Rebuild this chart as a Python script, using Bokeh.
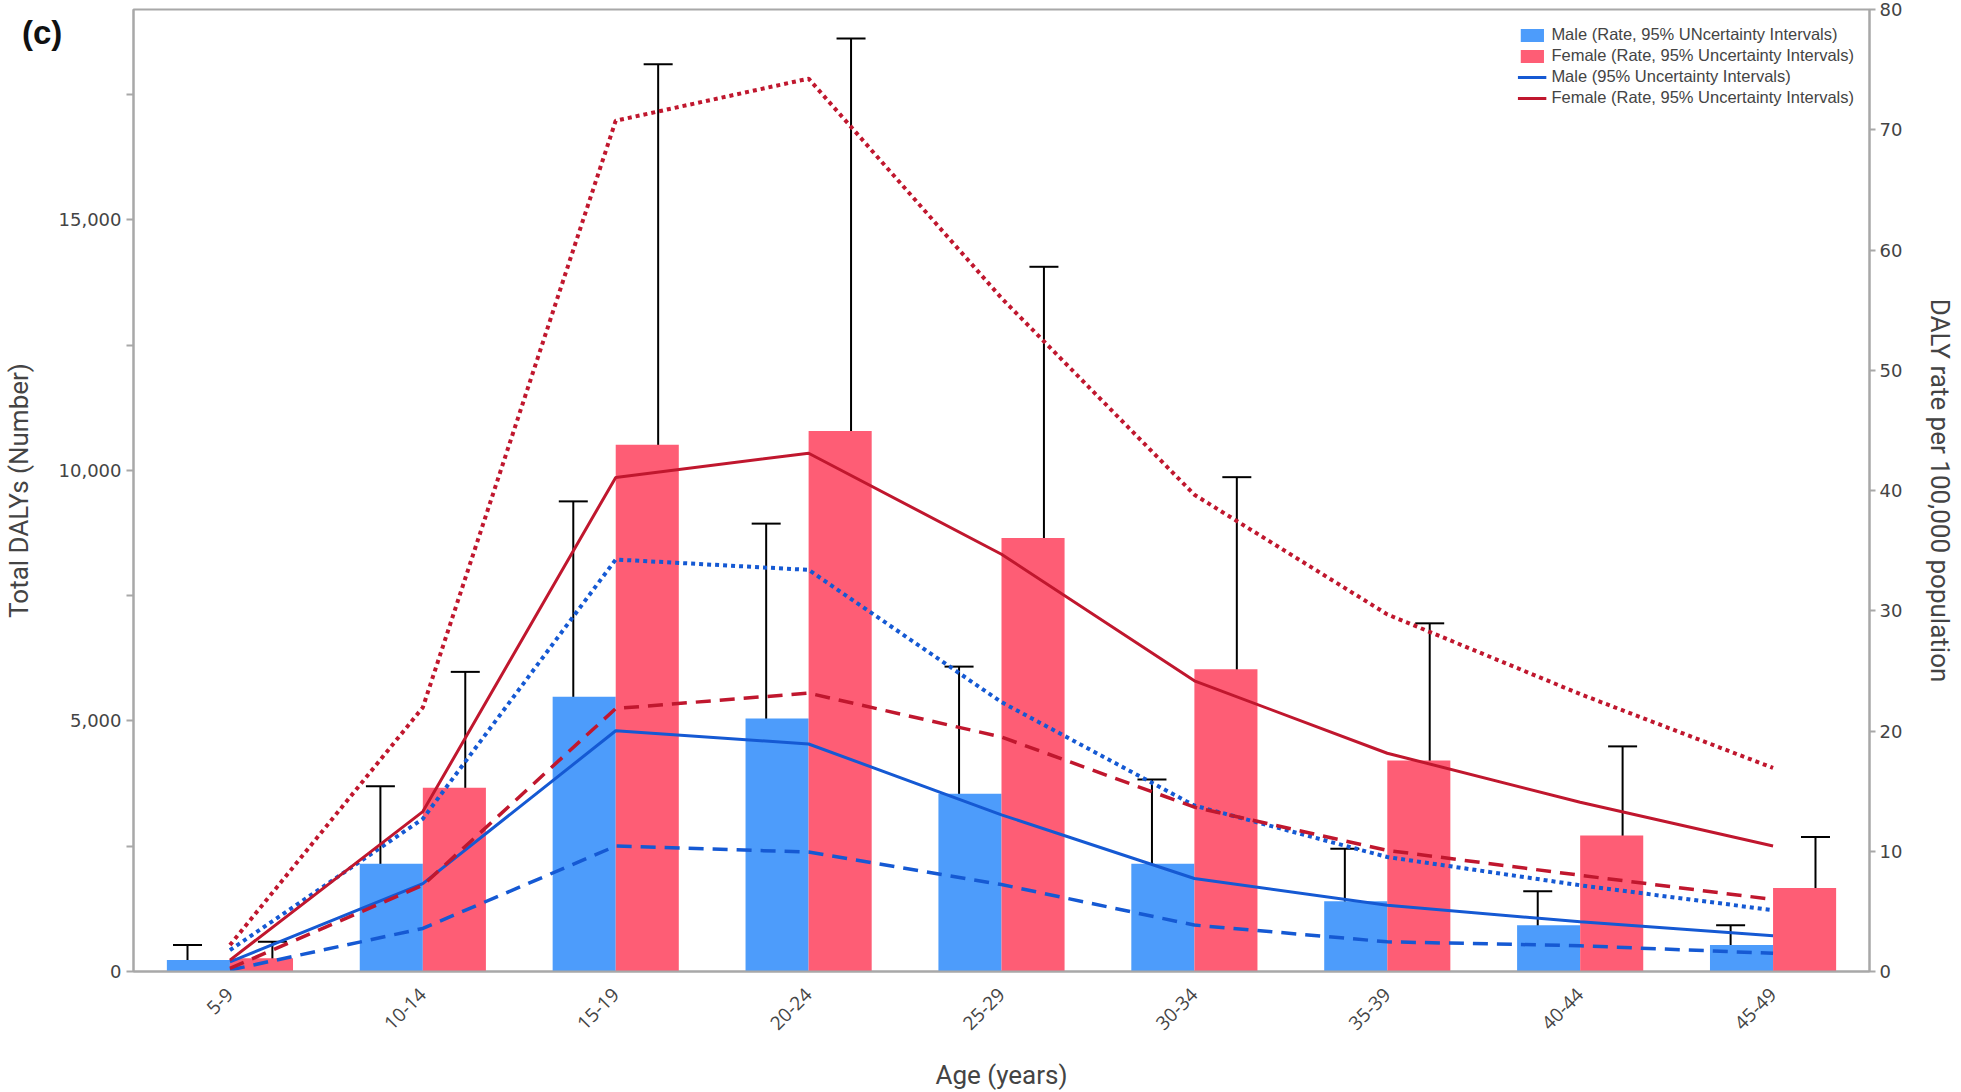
from bokeh.plotting import figure
from bokeh.models import (ColumnDataSource, Range1d, LinearAxis, FixedTicker, Legend, LegendItem,
                          Whisker, TeeHead, NumeralTickFormatter, FactorRange)
from bokeh.transform import dodge
from bokeh.embed import file_html
from bokeh.resources import INLINE
import math

categories = ["5-9", "10-14", "15-19", "20-24", "25-29", "30-34", "35-39", "40-44", "45-49"]

# Total DALYs (number), left axis
male_number = [229, 2153, 5482, 5051, 3546, 2153, 1403, 925, 527]
male_number_lower = [56, 1059, 2882, 2663, 1934, 1091, 693, 461, 249]
male_number_upper = [527, 3697, 9383, 8939, 6085, 3831, 2452, 1602, 925]
female_number = [262, 3665, 10511, 10790, 8653, 6034, 4209, 2716, 1668]
female_number_lower = [63, 1940, 5616, 5801, 4971, 3399, 2338, 1556, 959]
female_number_upper = [593, 5980, 18105, 18623, 14065, 9866, 6949, 4493, 2683]

# DALY rate per 100,000, right axis
male_rate = [0.8, 7.31, 20.02, 18.92, 13.03, 7.73, 5.51, 4.13, 2.97]
male_rate_lower = [0.12, 3.58, 10.43, 9.93, 7.23, 3.86, 2.47, 2.14, 1.51]
male_rate_upper = [1.78, 12.7, 34.26, 33.4, 22.4, 13.8, 9.52, 7.17, 5.1]
female_rate = [0.95, 13.3, 41.09, 43.1, 34.7, 24.17, 18.15, 14.08, 10.43]
female_rate_lower = [0.26, 7.17, 21.87, 23.15, 19.5, 13.67, 10.07, 8.0, 5.99]
female_rate_upper = [2.2, 21.96, 70.75, 74.25, 56.0, 39.65, 29.7, 23.07, 16.93]

left_ticks = [0, 5000, 10000, 15000]
left_minor = [2500, 7500, 12500, 17500]
right_ticks = [0, 10, 20, 30, 40, 50, 60, 70, 80]

panel_tag = "(c)"
legend_labels = ["Male (Rate, 95% UNcertainty Intervals)",
                 "Female (Rate, 95% Uncertainty Intervals)",
                 "Male (95% Uncertainty Intervals)",
                 "Female (Rate, 95% Uncertainty Intervals)"]

MALE_BAR = "#4D9CFB"
FEMALE_BAR = "#FE5D75"
MALE_LINE = "#1559D3"
FEMALE_LINE = "#C0172E"
AXIS_GRAY = "#A8A8A8"

src = ColumnDataSource(dict(
    cat=categories,
    male=male_number, ml=male_number_lower, mu=male_number_upper,
    female=female_number, fl=female_number_lower, fu=female_number_upper,
    mr=male_rate, mrl=male_rate_lower, mru=male_rate_upper,
    fr=female_rate, frl=female_rate_lower, fru=female_rate_upper,
))

p = figure(x_range=FactorRange(*categories), y_range=Range1d(0, 19200),
           frame_width=1736, frame_height=962,
           min_border_left=133, min_border_top=9, min_border_right=80, min_border_bottom=100,
           output_backend="svg", toolbar_location=None, background_fill_color="white")
p.extra_y_ranges = {"rate": Range1d(0, 80)}
p.grid.visible = False
p.outline_line_color = AXIS_GRAY
p.outline_line_width = 2

bar_w = 0.327
rb_m = p.vbar(x=dodge("cat", -bar_w / 2, range=p.x_range), top="male", width=bar_w,
              source=src, fill_color=MALE_BAR, line_color=None)
rb_f = p.vbar(x=dodge("cat", bar_w / 2, range=p.x_range), top="female", width=bar_w,
              source=src, fill_color=FEMALE_BAR, line_color=None)

# rate lines
rl_m = p.line("cat", "mr", source=src, y_range_name="rate", line_color=MALE_LINE, line_width=3)
p.line("cat", "mrl", source=src, y_range_name="rate", line_color=MALE_LINE, line_width=3.5,
       line_dash="15 9")
p.line("cat", "mru", source=src, y_range_name="rate", line_color=MALE_LINE, line_width=4,
       line_dash="4 4")
rl_f = p.line("cat", "fr", source=src, y_range_name="rate", line_color=FEMALE_LINE, line_width=3)
p.line("cat", "frl", source=src, y_range_name="rate", line_color=FEMALE_LINE, line_width=3.5,
       line_dash="15 9")
p.line("cat", "fru", source=src, y_range_name="rate", line_color=FEMALE_LINE, line_width=4,
       line_dash="4 4")

# error bars on the bars
for off, lo, up in [(-0.22, "ml", "mu"), (0.22, "fl", "fu")]:
    w = Whisker(source=src, base=dodge("cat", off, range=p.x_range), lower=lo, upper=up,
                line_color="black", line_width=2,
                upper_head=TeeHead(size=29, line_width=2, line_color="black"),
                lower_head=TeeHead(size=29, line_width=2, line_color="black"))
    p.add_layout(w)

# axes
tick_font = "DejaVu Sans"
title_font = "Roboto"

yl = p.yaxis[0]
yl.ticker = FixedTicker(ticks=left_ticks, minor_ticks=left_minor)
yl.formatter = NumeralTickFormatter(format="0,0")
yl.axis_label = "Total DALYs (Number)"
yl.axis_label_text_font = title_font
yl.axis_label_text_font_size = "26px"
yl.axis_label_text_font_style = "normal"
yl.axis_label_standoff = 22
yl.major_label_text_font = tick_font
yl.major_label_text_font_size = "18px"
yl.axis_line_color = AXIS_GRAY
yl.axis_line_width = 2
yl.major_tick_line_color = AXIS_GRAY
yl.minor_tick_line_color = AXIS_GRAY
yl.major_tick_line_width = 2
yl.minor_tick_line_width = 2
yl.major_tick_in = 0
yl.major_tick_out = 7
yl.minor_tick_in = 0
yl.minor_tick_out = 7
yl.major_label_standoff = 5

yr = LinearAxis(y_range_name="rate", ticker=FixedTicker(ticks=right_ticks))
yr.axis_label = "DALY rate per 100,000 population"
yr.axis_label_text_font = title_font
yr.axis_label_text_font_size = "26px"
yr.axis_label_text_font_style = "normal"
yr.axis_label_standoff = 20
yr.major_label_text_font = tick_font
yr.major_label_text_font_size = "18px"
yr.axis_line_color = AXIS_GRAY
yr.axis_line_width = 2
yr.major_tick_line_color = AXIS_GRAY
yr.major_tick_line_width = 2
yr.major_tick_in = 0
yr.major_tick_out = 6
yr.minor_tick_line_color = None
yr.major_label_standoff = 4
p.add_layout(yr, "right")

xa = p.xaxis[0]
xa.axis_label = "Age (years)"
xa.axis_label_text_font = title_font
xa.axis_label_text_font_size = "26px"
xa.axis_label_text_font_style = "normal"
xa.axis_label_standoff = 21
xa.major_label_orientation = math.pi / 4
xa.major_label_text_font = "Open Sans"
xa.major_label_text_font_size = "19px"
xa.major_label_standoff = 14
xa.axis_line_color = AXIS_GRAY
xa.axis_line_width = 2
xa.major_tick_line_color = None
xa.minor_tick_line_color = None

legend = Legend(items=[
    LegendItem(label=legend_labels[0], renderers=[rb_m]),
    LegendItem(label=legend_labels[1], renderers=[rb_f]),
    LegendItem(label=legend_labels[2], renderers=[rl_m]),
    LegendItem(label=legend_labels[3], renderers=[rl_f]),
], location="top_right")
legend.label_text_font = "Liberation Sans"
legend.label_text_font_size = "16.5px"
legend.glyph_width = 29
legend.glyph_height = 16
legend.label_height = 21
legend.spacing = 0
legend.label_standoff = 5
legend.padding = 4
legend.margin = 15
legend.border_line_color = None
legend.background_fill_alpha = 0
p.add_layout(legend)

html = file_html(p, INLINE)
# panel tag "(c)" sits outside the plot frame (Bokeh clips centre annotations to the frame)
tag_div = ('<div style="position:absolute;left:22px;top:14px;z-index:100;'
           'font-family:Arial,\'Liberation Sans\',sans-serif;font-weight:bold;'
           'font-size:33px;line-height:38px;color:#111;pointer-events:none;">'
           + panel_tag + '</div>\n')
idx = html.rfind("</body>")
if idx >= 0:
    html = html[:idx] + tag_div + html[idx:]
open("out.html", "w").write(html)
